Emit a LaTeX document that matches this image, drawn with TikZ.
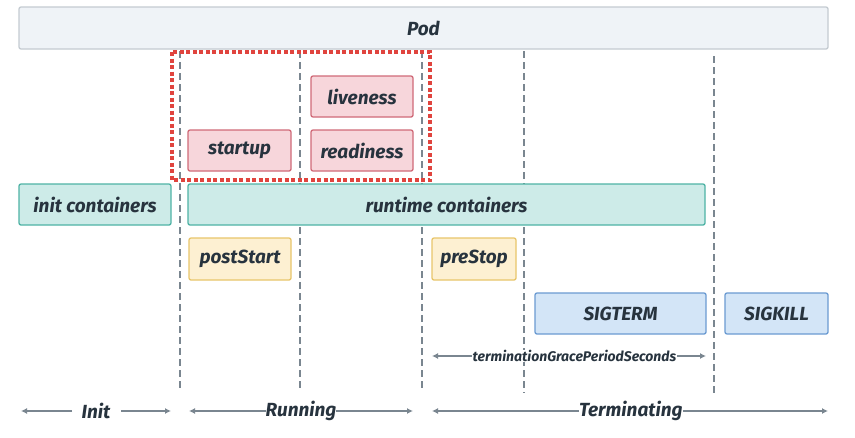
\documentclass[tikz,border=0pt]{standalone}
\usepackage{fontspec}
\setmainfont{Fira Sans}
\usetikzlibrary{arrows.meta}
\definecolor{txt}{HTML}{27333E}
\definecolor{gline}{HTML}{7A8690}
\definecolor{podf}{HTML}{EFF3F7}\definecolor{podd}{HTML}{C4CBD1}
\definecolor{pinkf}{HTML}{F7D6DB}\definecolor{pinkd}{HTML}{D06A78}
\definecolor{tealf}{HTML}{CDEBE8}\definecolor{teald}{HTML}{4FB3A5}
\definecolor{yelf}{HTML}{FDF0D2}\definecolor{yeld}{HTML}{E8C56A}
\definecolor{bluef}{HTML}{D3E5F7}\definecolor{blued}{HTML}{6B9BD2}
\definecolor{redd}{HTML}{E0443E}
\tikzset{
  x=1pt, y=-1pt,
  box/.style={draw, line width=1.3pt, rounded corners=2pt, inner sep=0pt,
    text=txt, font=\fontsize{19}{19}\selectfont\bfseries\itshape},
  podbox/.style={box, fill=podf, draw=podd},
  pinkbox/.style={box, fill=pinkf, draw=pinkd},
  tealbox/.style={box, fill=tealf, draw=teald},
  yelbox/.style={box, fill=yelf, draw=yeld},
  bluebox/.style={box, fill=bluef, draw=blued},
  vline/.style={draw=gline, line width=2.6pt, dash pattern=on 7pt off 4pt},
  redbox/.style={draw=redd, line width=4pt, dash pattern=on 4pt off 2.5pt},
  arr/.style={draw=gline, line width=2.6pt, -{Latex[length=6pt,width=6pt]}},
  darr/.style={draw=gline, line width=2.6pt, {Latex[length=6pt,width=6pt]}-{Latex[length=6pt,width=6pt]}},
  lbl/.style={text=txt, font=\fontsize{19}{19}\selectfont\bfseries\itshape, inner sep=0pt},
  slbl/.style={text=txt, font=\fontsize{14}{14}\selectfont\bfseries\itshape, inner sep=0.5pt, fill=white},
}
\begin{document}
\begin{tikzpicture}
\useasboundingbox[fill=white] (0,0) rectangle (855,437);
% dashed vertical lines
\foreach \n/\xx/\ya/\yb in {v1/180/51/388, v2/300/51/388, v3/422/51/388, v4/524/51/393, v5/714/56/394}{
  \coordinate (\n a) at (\xx,\ya);
  \coordinate (\n b) at (\xx,\yb);
  \draw[vline] (\n a) -- (\n b);
}
% pod
\node[podbox, minimum width=809pt, minimum height=42pt] (pod) at (423.5,28) {Pod};
% red dotted region
\coordinate (r1) at (172,52);
\coordinate (r2) at (430,180);
\draw[redbox] (r1) rectangle (r2);
% probes
\node[pinkbox, minimum width=102pt, minimum height=41pt] (live) at (362,96.5) {liveness};
\node[pinkbox, minimum width=103pt, minimum height=41pt] (start) at (239.5,150.5) {startup};
\node[pinkbox, minimum width=102pt, minimum height=41pt] (ready) at (362,150.5) {readiness};
% containers
\node[tealbox, minimum width=152pt, minimum height=41pt] (init) at (95,204.5) {init containers};
\node[tealbox, minimum width=517pt, minimum height=41pt] (run) at (446.5,204.5) {runtime containers};
% hooks
\node[yelbox, minimum width=102pt, minimum height=42pt] (post) at (240,259) {postStart};
\node[yelbox, minimum width=84pt, minimum height=42pt] (pre) at (474,259) {preStop};
% signals
\node[bluebox, minimum width=171pt, minimum height=41pt] (term) at (620.5,313.5) {SIGTERM};
\node[bluebox, minimum width=103pt, minimum height=41pt] (kill) at (776.5,313.5) {SIGKILL};
% grace period
\coordinate (g1) at (432,356);
\coordinate (g2) at (706,356);
\draw[darr] (g1) -- (g2) node[slbl, pos=0.52] (grace) {terminationGracePeriodSeconds};
% phases
\node[lbl] (pinit) at (96,411) {Init};
\coordinate (i1) at (21,411);
\coordinate (i2) at (72,411);
\coordinate (i3) at (121,411);
\coordinate (i4) at (171,411);
\draw[arr] (i2) -- (i1);
\draw[arr] (i3) -- (i4);
\coordinate (ra) at (189,411);
\coordinate (rb) at (413,411);
\draw[darr] (ra) -- (rb) node[lbl, fill=white, pos=0.5] (prun) {Running};
\coordinate (ta) at (432,411);
\coordinate (tb) at (828,411);
\draw[darr] (ta) -- (tb) node[lbl, fill=white, pos=0.502] (pterm) {Terminating};
\end{tikzpicture}
\end{document}
